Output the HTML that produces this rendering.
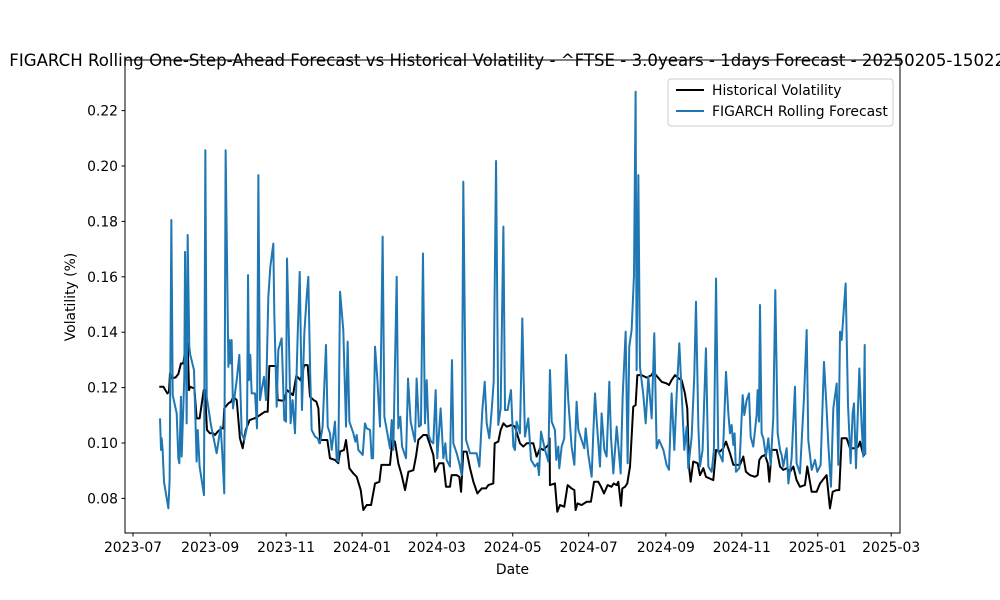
<!DOCTYPE html>
<html><head><meta charset="utf-8"><style>
body{margin:0;background:#fff}
svg{display:block;font-family:"DejaVu Sans","Liberation Sans",sans-serif}
</style></head><body>
<svg id="chart" width="1000" height="600" viewBox="0 0 1000 600">
<rect x="0" y="0" width="1000" height="600" fill="#fff"/>
<text x="512.5" y="66" text-anchor="middle" font-size="16.6">FIGARCH Rolling One-Step-Ahead Forecast vs Historical Volatility - ^FTSE - 3.0years - 1days Forecast - 20250205-150225</text>
<g id="xticks"></g>
<g id="yticks"></g>
<g id="series"></g>
<rect x="125" y="60" width="775" height="473" fill="none" stroke="#000" stroke-width="1"/>
<text x="512.5" y="574" text-anchor="middle" font-size="13.9">Date</text>
<text x="0" y="0" transform="translate(75,297) rotate(-90)" text-anchor="middle" font-size="13.9">Volatility (%)</text>
<g>
<rect x="668" y="79" width="225" height="47" rx="3" fill="#fff" fill-opacity="0.8" stroke="#ccc"/>
<line x1="676" y1="90" x2="704" y2="90" stroke="#000" stroke-width="2.1"/>
<text x="712" y="95" font-size="13.9">Historical Volatility</text>
<line x1="676" y1="111" x2="704" y2="111" stroke="#1f77b4" stroke-width="2.1"/>
<text x="712" y="116" font-size="13.9">FIGARCH Rolling Forecast</text>
</g>
</svg>
<script>
// day offsets are days since 2023-07-01
const histDays=[21.1,24.4,27.6,28.9,29.7,31.0,34.3,36.4,38.5,40.4,42.3,43.9,45.0,45.8,49.3,51.1,53.5,56.8,57.8,59.4,61.8,64.5,65.9,68.0,71.2,72.5,73.3,76.6,78.7,80.6,83.3,85.9,88.1,90.5,93.7,97.5,100.1,103.9,106.0,108.2,109.5,114.9,116.2,120.0,121.5,123.7,126.9,128.5,131.2,134.4,137.6,140.3,142.2,145.1,147.3,148.9,
150.2,152.9,156.1,158.2,162.2,164.9,166.3,169.5,171.1,173.8,177.0,179.7,182.9,185.0,187.7,191.2,194.4,197.9,199.5,206.4,208.3,210.4,213.1,215.8,218.5,221.2,225.2,227.3,229.2,233.2,235.9,238.6,241.2,242.6,246.0,249.3,251.4,254.6,255.9,260.0,262.1,263.5,265.3,268.0,270.7,273.4,276.6,280.1,283.5,285.4,289.4,290.5,293.4,295.3,297.5,300.1,304.1,
306.8,310.8,313.5,316.2,321.5,324.2,326.9,329.6,333.6,334.6,334.9,338.9,340.8,343.0,346.4,349.1,352.3,354.5,355.5,357.1,360.3,364.4,367.8,370.3,373.7,375.9,378.3,381.2,384.4,386.1,388.5,389.8,392.0,393.0,395.2,397.0,399.2,401.8,403.7,405.1,408.5,412.6,416.6,417.9,420.1,424.6,428.6,430.5,432.6,435.3,438.5,440.7,443.3,445.2,446.6,447.9,450.0,453.5,
455.4,458.1,460.2,466.1,468.3,471.5,474.1,476.3,479.5,482.2,487.5,490.2,492.3,495.6,499.6,501.7,503.1,504.9,507.6,509.8,511.1,513.0,517.0,519.7,522.3,525.0,527.7,530.4,533.0,535.7,539.7,541.6,545.1,549.1,551.8,553.9,557.1,559.8,562.0,565.2,567.3,569.2,573.2,575.9,579.9,582.6,583.9,586.6,587.9];
const histVals=[.1203,.1203,.1179,.1185,.1251,.1233,.1237,.1249,.1287,.1287,.1348,.1360,.1191,.1203,.1197,.1089,.1089,.1191,.1191,.1047,.1035,.1035,.1029,.1041,.1053,.1053,.1125,.1143,.1149,.1167,.1155,.1017,.0981,.1047,.1083,.1089,.1095,.1107,.1113,.1113,.1278,.1278,.1155,.1153,.1155,.1191,.1179,.1173,.1243,.1227,.1281,.1281,.1167,.1155,.1149,.1125,
.1011,.1011,.1011,.0945,.0939,.0927,.0969,.0975,.1011,.0909,.0890,.0878,.0830,.0758,.0776,.0776,.0854,.0860,.0921,.0921,.1011,.1005,.0927,.0884,.0830,.0896,.0902,.0951,.1011,.1029,.1029,.0993,.0957,.0896,.0927,.0927,.0842,.0842,.0884,.0884,.0878,.0824,.0969,.0969,.0909,.0860,.0818,.0836,.0836,.0848,.0854,.0999,.1005,.1047,.1071,.1059,.1065,
.1059,.0999,.0987,.0999,.0999,.0951,.0981,.0975,.0993,.1017,.0848,.0854,.0752,.0776,.0770,.0848,.0836,.0830,.0758,.0782,.0776,.0788,.0788,.0860,.0860,.0842,.0818,.0848,.0842,.0854,.0848,.0860,.0773,.0836,.0842,.0854,.0915,.1131,.1137,.1245,.1245,.1236,.1245,.1257,.1245,.1221,.1215,.1209,.1227,.1245,.1233,.1227,.1179,.1125,.0915,.0860,.0933,.0927,
.0884,.0909,.0878,.0866,.0975,.0969,.0981,.1005,.0963,.0921,.0921,.0951,.0896,.0884,.0878,.0884,.0939,.0951,.0957,.0927,.0860,.0975,.0975,.0915,.0903,.0909,.0896,.0915,.0866,.0842,.0848,.0915,.0824,.0824,.0854,.0866,.0884,.0764,.0824,.0830,.0830,.1017,.1017,.0981,.0981,.0987,.1005,.0957,.0957];
const fcDays=[21.7,22.5,23.0,23.8,24.9,28.4,29.4,30.8,31.9,35.1,36.4,37.2,38.5,39.1,41.2,41.8,43.1,43.9,45.2,46.0,49.0,51.1,52.0,53.5,57.0,58.1,59.2,62.6,67.2,70.4,71.7,73.3,74.4,76.6,77.4,78.4,79.2,80.3,83.3,85.4,87.3,89.4,91.6,92.4,93.2,94.2,95.3,98.0,99.6,100.7,102.0,103.3,105.2,106.8,108.7,110.3,112.7,113.5,115.4,116.7,119.4,121.5,122.9,123.7,124.8,126.6,128.2,130.1,132.3,133.9,135.7,137.6,139.5,140.8,142.2,143.5,146.2,148.3,149.7,
150.2,152.3,155.0,156.4,158.2,159.6,162.2,163.6,164.9,166.3,168.9,171.1,172.4,173.8,177.0,178.6,179.7,181.0,184.5,186.3,187.7,190.4,191.7,192.8,194.4,196.3,198.4,200.5,201.9,204.3,206.4,207.8,209.1,211.8,213.1,214.7,216.1,219.3,220.9,223.0,226.5,227.8,229.7,231.3,232.9,234.5,235.9,237.5,239.4,241.2,243.1,244.4,247.1,249.3,250.9,251.9,254.6,256.2,257.3,260.0,262.1,264.0,265.3,267.5,270.7,276.0,278.2,280.6,282.5,284.1,286.2,288.1,289.7,291.6,293.4,295.3,297.5,298.8,300.9,303.6,305.5,
306.8,308.1,310.8,312.7,314.8,317.5,319.7,322.9,325.0,326.1,327.7,330.9,333.6,334.9,336.3,338.9,340.0,341.6,342.4,344.3,346.4,347.8,349.6,352.3,354.5,356.3,357.7,360.3,362.5,363.6,365.7,368.4,369.7,371.1,372.4,375.1,376.4,378.6,380.4,382.6,383.9,385.8,388.5,391.7,393.3,395.7,397.3,398.6,400.5,402.4,403.7,404.5,405.9,407.2,409.9,411.8,413.9,416.6,418.7,420.6,422.5,426.0,428.6,430.5,432.6,434.8,436.7,438.8,440.7,442.8,444.7,446.0,448.7,450.8,452.2,454.1,
455.4,457.5,460.2,462.1,464.8,466.6,468.3,470.1,472.0,473.6,476.3,478.2,479.5,480.8,482.2,483.2,484.3,487.0,489.7,491.0,492.9,494.8,496.1,498.2,500.9,501.7,502.8,503.6,504.9,506.3,508.4,510.3,512.2,514.3,515.9,517.8,519.7,521.0,522.3,525.0,526.4,529.0,531.7,533.0,535.7,538.9,541.1,542.4,545.1,547.8,549.6,552.3,555.0,557.1,558.5,560.6,562.5,565.2,566.5,567.9,569.2,572.4,574.3,576.4,578.0,579.1,580.7,583.4,585.3,586.6,587.7,588.2];
const fcVals=[.1089,.0975,.1017,.0975,.0860,.0764,.0866,.1805,.1173,.1107,.0945,.0927,.1167,.0951,.1239,.1690,.1071,.1751,.1348,.1318,.1263,.0933,.1047,.0915,.0812,.2057,.1167,.1065,.0963,.1059,.0963,.0818,.2057,.1275,.1372,.1287,.1372,.1125,.1227,.1318,.1035,.1011,.1059,.1606,.1227,.1318,.1179,.1179,.1053,.1967,.1155,.1191,.1239,.1155,.1528,.1636,.1720,.1468,.1131,.1336,.1378,.1083,.1077,.1666,.1468,.1071,.1155,.1035,.1396,.1618,.1119,.1396,.1528,.1600,.1275,.1047,.1023,.1017,.0999,
.0999,.1059,.1354,.1059,.1035,.0975,.1077,.0939,.0933,.1546,.1408,.1059,.1366,.1077,.1035,.1005,.1029,.0975,.0957,.1071,.1053,.1047,.0945,.0945,.1348,.1227,.1059,.1745,.1095,.1035,.0981,.1083,.0975,.1600,.1053,.1095,.0987,.0945,.1233,.1077,.1005,.1233,.1059,.1065,.1684,.1071,.1227,.1029,.1005,.0999,.1191,.0945,.1125,.0945,.0999,.0939,.0915,.1299,.0999,.0963,.0927,.0884,.1943,.1011,.0963,.0963,.0915,.1119,.1221,.1071,.1017,.1119,.1221,.2018,.1065,.1125,.1781,.1119,.1119,.1191,.0987,
.0975,.1077,.1035,.1450,.1023,.1089,.0939,.0915,.0927,.0884,.1041,.0975,.0933,.1263,.1077,.1047,.0939,.0987,.0909,.0987,.1017,.1318,.1155,.0987,.0921,.1149,.1047,.1011,.0981,.1053,.0957,.0878,.1035,.1179,.1083,.0915,.1107,.0975,.0951,.1221,.1023,.0890,.1059,.0890,.1167,.1402,.0927,.1348,.1408,.1606,.2268,.1263,.1967,.1275,.1173,.1071,.1239,.1089,.1396,.0981,.1011,.0975,.0921,.0903,.1179,.0975,.1179,.1360,.1179,.0975,.1059,.0909,.1023,.1239,.1510,.1059,
.0915,.0975,.1342,.0915,.0896,.0975,.1594,.0969,.0951,.0933,.1257,.1107,.1035,.1065,.0993,.1035,.0896,.0909,.1173,.1101,.1155,.1179,.1023,.0987,.1101,.1191,.1077,.1498,.1035,.1017,.0951,.1017,.0921,.1095,.1552,.1035,.0975,.0957,.0915,.0981,.0854,.0945,.1203,.0927,.0890,.1161,.1408,.1011,.0903,.0939,.0896,.0921,.1293,.1125,.0993,.0842,.1125,.1215,.0921,.1402,.1372,.1576,.1137,.0927,.1107,.1143,.0909,.1269,.1059,.0951,.1354,.0957];
const yTickVals=[0.08,0.10,0.12,0.14,0.16,0.18,0.20,0.22];
const xTickLabels=["2023-07","2023-09","2023-11","2024-01","2024-03","2024-05","2024-07","2024-09","2024-11","2025-01","2025-03"];

const NS="http://www.w3.org/2000/svg";
const base=Date.UTC(2023,6,1);
const xMin=-6.43, xMax=616.06, yMin=0.06751, yMax=0.23827;
const L=125,R=900,T=60,B=533;
function xScale(d){return L+(d-xMin)/(xMax-xMin)*(R-L);}
function yScale(v){return B-(v-yMin)/(yMax-yMin)*(B-T);}
function dayOf(lbl){const p=lbl.split("-");return (Date.UTC(+p[0],+p[1]-1,1)-base)/86400000;}

const xg=document.getElementById("xticks");
xTickLabels.forEach(lbl=>{
  const x=xScale(dayOf(lbl));
  const t=document.createElementNS(NS,"line");
  t.setAttribute("x1",x);t.setAttribute("x2",x);t.setAttribute("y1",B);t.setAttribute("y2",B+3.5);t.setAttribute("stroke","#000");
  
  
  xg.appendChild(t);
  const tx=document.createElementNS(NS,"text");
  tx.setAttribute("x",x);tx.setAttribute("y",B+19);tx.setAttribute("text-anchor","middle");tx.setAttribute("font-size","13.9");
  tx.textContent=lbl;
  
  
  xg.appendChild(tx);
});
const yg=document.getElementById("yticks");
yTickVals.forEach(v=>{
  const y=yScale(v);
  const t=document.createElementNS(NS,"line");
  t.setAttribute("x1",L-3.5);t.setAttribute("x2",L);t.setAttribute("y1",y);t.setAttribute("y2",y);t.setAttribute("stroke","#000");
  
  
  yg.appendChild(t);
  const tx=document.createElementNS(NS,"text");
  tx.setAttribute("x",L-7);tx.setAttribute("y",y+5);tx.setAttribute("text-anchor","end");tx.setAttribute("font-size","13.9");
  tx.textContent=v.toFixed(2);
  
  
  yg.appendChild(tx);
});
function pathFor(days,vals){return days.map((d,i)=>(i?"L":"M")+xScale(d).toFixed(2)+","+yScale(vals[i]).toFixed(2)).join(" ");}
const sg=document.getElementById("series");
const hp=document.createElementNS(NS,"path");
hp.setAttribute("d",pathFor(histDays,histVals));hp.setAttribute("fill","none");hp.setAttribute("stroke","#000");hp.setAttribute("stroke-width","2");hp.setAttribute("stroke-linejoin","round");


sg.appendChild(hp);
const fp=document.createElementNS(NS,"path");
fp.setAttribute("d",pathFor(fcDays,fcVals));fp.setAttribute("fill","none");fp.setAttribute("stroke","#1f77b4");fp.setAttribute("stroke-width","2");fp.setAttribute("stroke-linejoin","round");


sg.appendChild(fp);
</script>
</body></html>
